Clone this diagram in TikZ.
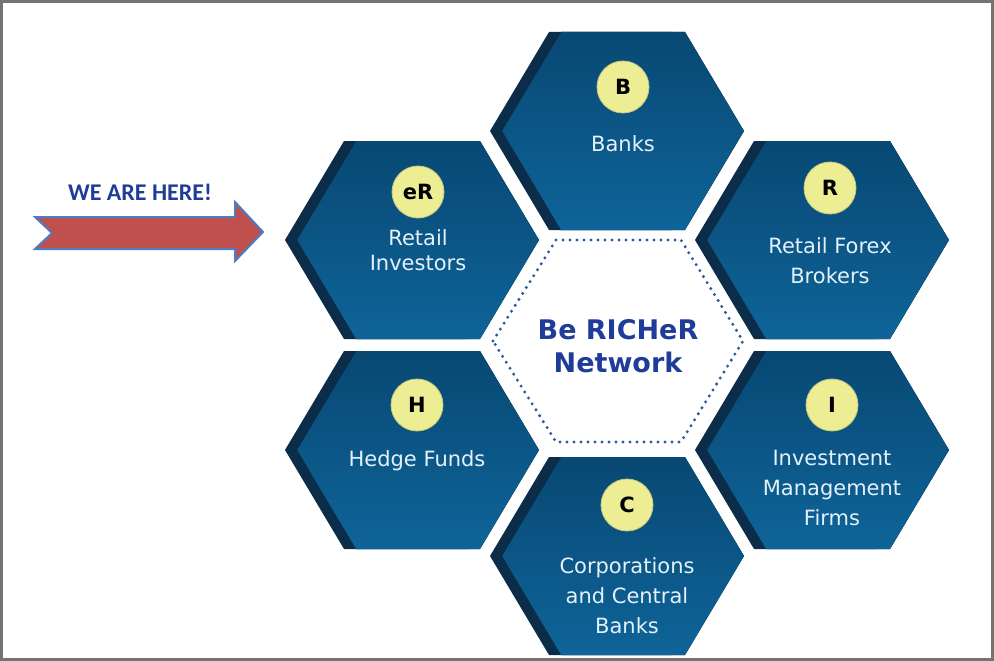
\documentclass[tikz,border=0pt]{standalone}
\usepackage{fontspec}
\setmainfont{DejaVu Sans}
\newfontfamily\calloutfont{Carlito}
\usepackage{xcolor}
\usepackage{tikz}
\usetikzlibrary{positioning}

\definecolor{hexTop}{HTML}{084873}
\definecolor{hexBottom}{HTML}{0E6499}
\definecolor{hexShade}{HTML}{0B2D4A}
\definecolor{badgeFill}{HTML}{EDED94}
\definecolor{labelText}{HTML}{E4F1FA}
\definecolor{netBlue}{HTML}{1F3C99}
\definecolor{dotBlue}{HTML}{2D5B98}
\definecolor{arrowRed}{HTML}{C0504D}
\definecolor{arrowEdge}{HTML}{4F7CC0}

% one honeycomb cell: dark side + shaded face, centred on (#1,#2)
\newcommand{\hexcell}[2]{%
  \begin{scope}[shift={(#1,#2)}]
    \fill[hexShade] (-133,0) -- (-74,-99) -- (49,-99) -- (108,0) -- (49,99) -- (-74,99) -- cycle;
    \fill[top color=hexTop, bottom color=hexBottom] (-121,0) -- (-62,-99) -- (62,-99) -- (121,0) -- (62,99) -- (-62,99) -- cycle;
  \end{scope}}

\begin{document}
\begin{tikzpicture}[x=1pt, y=-1pt, every node/.style={inner sep=0pt}]
    % Styles
    \tikzstyle{badge} = [circle, fill=badgeFill, draw=badgeFill!85!black, line width=0.8pt, minimum size=52pt, font=\bfseries\fontsize{21}{21}\selectfont]
    \tikzstyle{cell label} = [text=labelText, align=center, font=\fontsize{21}{30}\selectfont]

    \useasboundingbox (0,0) rectangle (994,661);
    \draw[gray!90!black, line width=3pt] (1.5,1.5) rectangle (992.5,659.5);

    % Cells
    \hexcell{623}{131}
    \hexcell{418}{240}
    \hexcell{828}{240}
    \hexcell{418}{450}
    \hexcell{828}{450}
    \hexcell{623}{556}

    % Centre
    \draw[dotBlue, line width=3.3pt, dash pattern=on 0pt off 7pt, line cap=round]
        (493,341) -- (556,240) -- (681,240) -- (743,341) -- (681,442) -- (556,442) -- cycle;
    \node[text=netBlue, align=center, font=\bfseries\fontsize{27}{33}\selectfont] (network) at (618,346) {Be RICHeR\\Network};

    % Badges
    \node[badge] (banks) at (623,87) {B};
    \node[badge] (retail) at (418,192) {eR};
    \node[badge] (forex) at (830,188) {R};
    \node[badge] (hedge) at (417,405) {H};
    \node[badge] (invest) at (832,405) {I};
    \node[badge] (corp) at (627,505) {C};

    % Labels
    \node[cell label, below=22pt of banks] (banks label) {Banks};
    \node[cell label, below=11pt of retail, font=\fontsize{21}{25}\selectfont] (retail label) {Retail\\Investors};
    \node[cell label, below=23pt of forex] (forex label) {Retail Forex\\Brokers};
    \node[cell label, below=19pt of hedge] (hedge label) {Hedge Funds};
    \node[cell label, below=19pt of invest] (invest label) {Investment\\Management\\Firms};
    \node[cell label, below=26pt of corp] (corp label) {Corporations\\and Central\\Banks};

    % Arrow
    \draw[arrowEdge, fill=arrowRed, line width=2pt, line join=miter]
        (35,217) -- (235,217) -- (235,202) -- (263,232) -- (235,261) -- (235,249) -- (35,249) -- (52,233) -- cycle;
    \node[text=netBlue, font=\calloutfont\bfseries\fontsize{24}{24}\selectfont] (here) at (140,192) {WE ARE HERE!};
\end{tikzpicture}
\end{document}
